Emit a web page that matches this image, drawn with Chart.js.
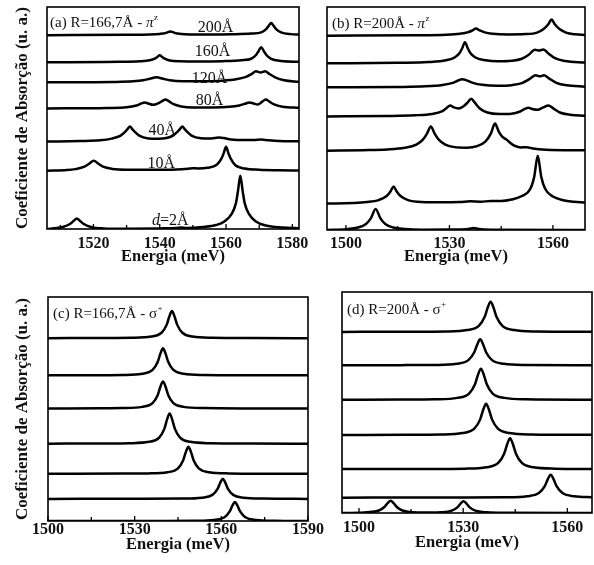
<!DOCTYPE html>
<html>
<head>
<meta charset="utf-8">
<script src="https://cdn.jsdelivr.net/npm/chart.js@4.4.1/dist/chart.umd.min.js"></script>
<style>
  body { margin: 0; background: #fff; }
  #fig { position: relative; width: 594px; height: 565px; overflow: hidden; }
  canvas { position: absolute; }
</style>
</head>
<body>
<div id="fig">
  <canvas id="pa" width="320" height="270" style="left:0;top:0"></canvas>
  <canvas id="pb" width="294" height="270" style="left:300px;top:0"></canvas>
  <canvas id="pc" width="330" height="285" style="left:0;top:280px"></canvas>
  <canvas id="pd" width="279" height="285" style="left:315px;top:280px"></canvas>
</div>
<script>
// ---- panel (a) R=166,7Å, pi^z ----
const rangeA = [1506, 1582];
const ticksA = [1520, 1540, 1560, 1580];
const minorA = [1510, 1530, 1550, 1570];
const offsetsA = [193, 166, 146, 120, 87, 58, 0];
const curvesA = [
  [[1506,0],[1530,0.3],[1537,0.6],[1540,1.2],[1541.7,2],[1542.5,3],[1543.2,3.5],[1544,3],[1544.7,2],[1546.4,1.2],[1549,0.7],[1555,0.6],[1562,0.9],[1567.6,1.6],[1570.6,2.8],[1572.1,6],[1572.8,9],[1573.6,12],[1574.4,9],[1575.1,6],[1576.6,2.8],[1579.6,1],[1582,0.6]],
  [[1506,0],[1528,0.4],[1534,1],[1537,2],[1538.5,3.6],[1539.3,5.3],[1540,7],[1540.7,5.3],[1541.5,3.6],[1543,1.8],[1546,0.9],[1552,0.7],[1559,1.1],[1564.6,2],[1567.6,3.5],[1569.1,7.5],[1569.8,11],[1570.6,15],[1571.4,11],[1572.1,7.5],[1573.6,3.3],[1576.6,1.2],[1582,0.5]],
  [[1506,0],[1526,0.4],[1532,1],[1535,2],[1537,3.6],[1539,5],[1541,3.6],[1543,2],[1547,1],[1553,1],[1559,1.6],[1563,3],[1566,5.5],[1567.8,8.5],[1569,11],[1570.4,9.8],[1571.8,11],[1573,8.5],[1574.8,5],[1577.5,2],[1582,0.6]],
  [[1506,0],[1524,0.5],[1530,1.2],[1533,3],[1534.5,5],[1535.4,6],[1536.5,5],[1538,3.6],[1539.5,5],[1540.8,7.5],[1541.7,9],[1542.6,7.5],[1544,4.5],[1546.5,2],[1550,1],[1556,1],[1561,1.6],[1564,3],[1566,5],[1567,6],[1568.3,5],[1569.5,4],[1571,7],[1572,9],[1573,7],[1574.5,4],[1577,1.8],[1582,0.6]],
  [[1506,0],[1516,0.6],[1522,1.3],[1525.5,3],[1528.2,6],[1529.6,10],[1530.3,12.5],[1531,15],[1531.7,12.5],[1532.4,10],[1533.8,6],[1536.6,3.2],[1539.5,2.8],[1542,3.5],[1544,6],[1545.4,10],[1546.1,12.5],[1546.8,15],[1547.5,12.5],[1548.2,10],[1549.6,6],[1552.4,3.3],[1555,3],[1556.7,3.6],[1558,4],[1559.3,3.5],[1561.5,2.2],[1565,1.5],[1568.5,1.6],[1570.6,2],[1572.7,1.4],[1576,0.7],[1582,0.3]],
  [[1506,0],[1512,0.7],[1514.5,1.6],[1517.3,4],[1518.7,7],[1520.1,10],[1521.5,7],[1522.9,4],[1525.7,1.8],[1530,1],[1538,1],[1545,1.3],[1548.5,2],[1550,2.5],[1551.5,2.3],[1554.4,3],[1557.2,6],[1558.6,12],[1559.3,17.5],[1560,24],[1560.7,17.5],[1561.4,12],[1562.8,5.5],[1565.6,2.2],[1570,1],[1576,0.5],[1582,0.3]],
  [[1506,0],[1509,1],[1511,2.2],[1512.9,5],[1514.2,8.5],[1515,10.5],[1515.8,8.5],[1517.1,5],[1519.5,1.8],[1523,0.6],[1530,0.3],[1540,0.6],[1545,1],[1546.5,1.4],[1548,1],[1553,2],[1557,4],[1559.5,7.5],[1561.7,15],[1563,26],[1563.6,38],[1564.3,53],[1565,38],[1565.6,26],[1566.9,15],[1569,7.5],[1572,3.5],[1577,1.5],[1582,0.8]]
];
const labelsA = ['200Å', '160Å', '120Å', '80Å', '40Å', '10Å', 'd=2Å'];
const labelXA = [1556.8, 1555.9, 1555, 1555, 1540.8, 1540.5, 1543.2];
const labelYA = [200, 176, 150, 128, 98, 65, 8];

// ---- panel (b) R=200Å, pi^z ----
const rangeB = [1494.5, 1569.3];
const ticksB = [1500, 1530, 1560];
const minorB = [1515, 1545];
const offsetsB = [193.5, 166, 142, 113, 79, 26.3, 0];
const curvesB = [
  [[1494.5,0],[1520,0.3],[1529,0.8],[1533,1.8],[1535.5,3.5],[1536.7,5.3],[1537.7,7],[1538.7,5.3],[1540,3.5],[1542.5,1.9],[1547,1.2],[1552,1.5],[1555.4,3],[1557.3,6.5],[1558.6,11],[1559.6,16],[1560.6,11],[1561.9,6.5],[1563.8,3],[1566.5,1.3],[1569.3,0.7]],
  [[1494.5,0],[1515,0.5],[1524,1.2],[1529,3],[1531.6,6],[1533,10.5],[1533.7,15],[1534.5,21],[1535.3,15],[1536,10.5],[1537.4,6],[1540.5,3],[1544,2],[1548,2.5],[1551,4.5],[1553,8.5],[1554.8,13.5],[1556,12.6],[1557.3,13.7],[1558.6,10],[1560.6,5],[1563.5,2.2],[1569.3,0.8]],
  [[1494.5,0],[1515,0.4],[1523,1],[1528,2.4],[1531,4.5],[1532.5,6.8],[1533.7,8],[1535,7],[1536.8,4.5],[1539.5,2.5],[1544,1.6],[1548,2.2],[1551,4.2],[1553.3,8.5],[1555,12],[1556.2,11],[1557.4,12],[1558.8,9],[1561,4.5],[1564,2],[1569.3,0.7]],
  [[1494.5,0],[1512,0.5],[1520,1.2],[1525,2.5],[1527.8,5],[1529.2,8.5],[1530.2,11],[1531.3,9],[1532.6,8],[1534,10],[1535.3,14],[1536.3,17.7],[1537.4,13.5],[1538.8,8],[1541,4],[1544.5,2.5],[1548,2.8],[1550.5,5],[1552,7.8],[1552.9,8.7],[1554,7.5],[1555.5,6.7],[1557.2,9],[1558.7,11],[1560,8.3],[1562,4],[1565,1.8],[1569.3,0.8]],
  [[1494.5,0],[1505,0.5],[1512,1.2],[1517,2.8],[1520.4,6],[1522.3,11],[1523.5,17],[1524.6,24],[1525.7,17],[1526.9,11],[1528.8,6],[1531.5,3.5],[1535,3],[1538,4.5],[1540.4,9],[1542,17],[1543.2,27],[1544.3,19],[1545.3,14],[1546.5,11],[1548.5,5.5],[1550.6,3.2],[1552.4,3.5],[1554.2,2.2],[1558,1],[1569.3,0.3]],
  [[1494.5,0],[1502,0.6],[1506,1.5],[1509.5,3.5],[1511.8,7.5],[1512.9,12],[1513.8,17],[1514.7,12],[1515.8,7.5],[1518,3.5],[1522,1.6],[1528,1.3],[1533,1.6],[1536,2.2],[1539,1.9],[1542,2.5],[1545,2.5],[1548,4],[1551,7.5],[1553.5,15],[1554.6,27],[1555.6,47.7],[1556.6,27],[1557.7,15],[1560,7],[1563,3.4],[1566,1.8],[1569.3,1]],
  [[1494.5,0],[1500,0.8],[1503.5,2.5],[1505.8,6],[1507.2,11.5],[1508.6,21],[1510,11.5],[1511.4,6],[1513.7,2.5],[1517,1],[1522,0.3],[1530,0.4],[1535.5,1],[1537,2],[1538.5,1],[1542,0.3],[1569.3,0]]
];

// ---- panel (c) R=166,7Å, sigma^+ ----
const rangeC = [1500, 1590];
const ticksC = [1500, 1530, 1560, 1590];
const minorC = [1515, 1545, 1575];
const offsetsC = [182, 145, 112, 77, 47, 22, 0];
const curvesC = [
  [[1500,0],[1520,0.2],[1528.9,0.4],[1535.7,1.6],[1539.3,5.4],[1541.1,13.5],[1542,21.6],[1542.9,27],[1543.8,21.6],[1544.7,13.5],[1546.5,5.4],[1550.1,1.6],[1556.9,0.4],[1570,0.1],[1590,0]],
  [[1500,0],[1518,0.2],[1525.8,0.4],[1532.6,1.6],[1536.2,5.4],[1538,13.5],[1538.9,21.6],[1539.8,27],[1540.7,21.6],[1541.6,13.5],[1543.4,5.4],[1547,1.6],[1553.8,0.4],[1570,0.1],[1590,0]],
  [[1500,0],[1518,0.2],[1525.8,0.4],[1532.6,1.6],[1536.2,5.4],[1538,13.5],[1538.9,21.6],[1539.8,27],[1540.7,21.6],[1541.6,13.5],[1543.4,5.4],[1547,1.6],[1553.8,0.4],[1570,0.1],[1590,0]],
  [[1500,0],[1520,0.2],[1528.1,0.45],[1534.9,1.8],[1538.5,6],[1540.3,15],[1541.2,24],[1542.1,30],[1543,24],[1543.9,15],[1545.7,6],[1549.3,1.8],[1556.1,0.45],[1570,0.1],[1590,0]],
  [[1500,0],[1526,0.2],[1534.6,0.4],[1541.4,1.6],[1545,5.4],[1546.8,13.5],[1547.7,21.6],[1548.6,27],[1549.5,21.6],[1550.4,13.5],[1552.2,5.4],[1555.8,1.6],[1562.6,0.4],[1576,0.1],[1590,0]],
  [[1500,0],[1532,0.15],[1546.5,0.3],[1553.3,1.2],[1556.9,4],[1558.7,10],[1559.6,16],[1560.5,20],[1561.4,16],[1562.3,10],[1564.1,4],[1567.7,1.2],[1574.5,0.3],[1590,0]],
  [[1500,0],[1540,0.1],[1550.7,0.3],[1557.5,1.1],[1561.1,3.8],[1562.9,9.5],[1563.8,15.2],[1564.7,19],[1565.6,15.2],[1566.5,9.5],[1568.3,3.8],[1571.9,1.1],[1578.7,0.3],[1590,0]]
];

// ---- panel (d) R=200Å, sigma^+ ----
const rangeD = [1495.1, 1567.1];
const ticksD = [1500, 1530, 1560];
const minorD = [1515, 1545];
const offsetsD = [180.3, 147, 112.7, 77.7, 43.7, 15.3, 0];
const curvesD = [
  [[1495.1,0],[1515,0.2],[1524.9,0.45],[1531.1,1.8],[1534.5,6],[1536.2,15],[1537.05,24],[1537.9,30],[1538.75,24],[1539.6,15],[1541.3,6],[1544.7,1.8],[1550.9,0.45],[1567.1,0.1]],
  [[1495.1,0],[1512,0.2],[1521.9,0.4],[1528.1,1.6],[1531.5,5.2],[1533.2,13],[1534.05,20.8],[1534.9,26],[1535.75,20.8],[1536.6,13],[1538.3,5.2],[1541.7,1.6],[1547.9,0.4],[1567.1,0.1]],
  [[1495.1,0],[1512,0.2],[1522.1,0.5],[1528.3,1.9],[1531.7,6.2],[1533.4,15.5],[1534.25,24.8],[1535.1,31],[1535.95,24.8],[1536.8,15.5],[1538.5,6.2],[1541.9,1.9],[1548.1,0.5],[1567.1,0.1]],
  [[1495.1,0],[1513,0.2],[1523.6,0.5],[1529.8,1.9],[1533.2,6.2],[1534.9,15.5],[1535.75,24.8],[1536.6,31],[1537.45,24.8],[1538.3,15.5],[1540,6.2],[1543.4,1.9],[1549.6,0.5],[1567.1,0.1]],
  [[1495.1,0],[1520,0.2],[1530.5,0.45],[1536.7,1.8],[1540.1,6.1],[1541.8,15.3],[1542.65,24.5],[1543.5,30.6],[1544.35,24.5],[1545.2,15.3],[1546.9,6.1],[1550.3,1.8],[1556.5,0.45],[1567.1,0.15]],
  [[1495.1,0],[1530,0.15],[1542.2,0.35],[1548.4,1.4],[1551.8,4.5],[1553.5,11.4],[1554.35,18.2],[1555.2,22.7],[1556.05,18.2],[1556.9,11.4],[1558.6,4.5],[1562,1.4],[1567.1,0.5]],
  [[1495.1,0],[1500,0.3],[1502.3,0.7],[1505.7,2.5],[1507.4,6.2],[1508.25,9.8],[1509.1,12.3],[1509.95,9.8],[1510.8,6.2],[1512.5,2.5],[1515.9,0.7],[1520,0.4],[1523.3,0.7],[1526.7,2.3],[1528.4,5.9],[1529.25,9.4],[1530.1,11.7],[1530.95,9.4],[1531.8,5.9],[1533.5,2.3],[1536.9,0.7],[1542,0.2],[1567.1,0]]
];

const yTitle = 'Coeficiente de Absorção (u. a.)';
const xTitle = 'Energia (meV)';
const serif = '"Liberation Serif", "Times New Roman", serif';
const ink = '#111';

// frame, inward ticks, panel tag and curve labels
const panelDecor = {
  id: 'panelDecor',
  afterDatasetsDraw(chart, args, o) {
    const {ctx, chartArea: a} = chart;
    const sx = chart.scales.x, sy = chart.scales.y;
    ctx.save();
    ctx.strokeStyle = '#000';
    ctx.lineWidth = 1.6;
    ctx.strokeRect(a.left, a.top, a.right - a.left, a.bottom - a.top);
    ctx.lineWidth = 1.3;
    ctx.beginPath();
    o.major.forEach(v => {
      let px = sx.getPixelForValue(v);
      ctx.moveTo(px, a.bottom); ctx.lineTo(px, a.bottom - 5);
    });
    o.minor.forEach(v => {
      let px = sx.getPixelForValue(v);
      ctx.moveTo(px, a.bottom); ctx.lineTo(px, a.bottom - 4);
    });
    ctx.stroke();

    // panel tag like "(a) R=166,7Å - π^z"
    ctx.fillStyle = ink;
    ctx.textBaseline = 'alphabetic';
    ctx.textAlign = 'left';
    let tx = a.left + o.tagDx, ty = a.top + o.tagDy;
    ctx.font = '15px ' + serif;
    ctx.fillText(o.tag[0], tx, ty);
    tx += ctx.measureText(o.tag[0]).width;
    ctx.font = (o.tag[3] ? 'italic ' : '') + '15px ' + serif;
    ctx.fillText(o.tag[1], tx, ty);
    tx += ctx.measureText(o.tag[1]).width;
    ctx.font = '9px ' + serif;
    ctx.fillText(o.tag[2], tx + 0.5, ty - 7);

    // curve labels (panel a only)
    if (o.labels) {
      ctx.font = '16px ' + serif;
      ctx.textBaseline = 'middle';
      o.labels.forEach((t, i) => {
        let cx = sx.getPixelForValue(o.labelX[i]);
        let cy = sy.getPixelForValue(o.labelY[i]);
        if (t.startsWith('d=')) {
          ctx.font = 'italic 16px ' + serif;
          let w1 = ctx.measureText('d').width;
          ctx.font = '16px ' + serif;
          let w2 = ctx.measureText(t.slice(1)).width;
          let x0 = cx - (w1 + w2) / 2;
          ctx.textAlign = 'left';
          ctx.font = 'italic 16px ' + serif;
          ctx.fillText('d', x0, cy);
          ctx.font = '16px ' + serif;
          ctx.fillText(t.slice(1), x0 + w1, cy);
        } else {
          ctx.textAlign = 'center';
          ctx.fillText(t, cx, cy);
        }
      });
    }
    ctx.restore();
  }
};

function makePanel(id, range, ticks, minor, offsets, curves, yMax, lay, decor) {
  let datasets = curves.map((c, i) => ({
    data: c.map(p => ({x: p[0], y: offsets[i] + p[1]})),
    borderColor: '#000',
    borderWidth: 2.5,
    pointRadius: 0,
    fill: false,
    cubicInterpolationMode: 'monotone'
  }));
  decor.major = ticks;
  decor.minor = minor;
  return new Chart(document.getElementById(id), {
    type: 'line',
    data: {datasets: datasets},
    options: {
      responsive: false,
      animation: false,
      events: [],
      layout: {padding: lay.pad},
      plugins: {legend: {display: false}, tooltip: {enabled: false}, panelDecor: decor},
      scales: {
        x: {
          type: 'linear',
          min: range[0],
          max: range[1],
          afterBuildTicks: s => { s.ticks = ticks.map(v => ({value: v})); },
          grid: {display: false, drawTicks: false},
          border: {display: false},
          ticks: {
            color: ink,
            padding: lay.tickPad,
            maxRotation: 0,
            autoSkip: false,
            font: {family: serif, size: 16, weight: 'bold', lineHeight: 1},
            callback: v => String(v)
          },
          title: {
            display: true,
            text: xTitle,
            color: ink,
            padding: {top: lay.titlePad, bottom: 0},
            font: {family: serif, size: 16.5, weight: 'bold', lineHeight: 0.6}
          }
        },
        y: {
          type: 'linear',
          min: 0,
          max: yMax,
          display: lay.yTitle,
          grid: {display: false, drawTicks: false},
          border: {display: false},
          ticks: {display: false},
          title: {
            display: lay.yTitle,
            text: yTitle,
            color: ink,
            padding: lay.yPad,
            font: {family: serif, size: 17, weight: 'bold', lineHeight: 1.2}
          }
        }
      }
    },
    plugins: [panelDecor]
  });
}

makePanel('pa', rangeA, ticksA, minorA, offsetsA, curvesA, 221,
  {pad: {left: 0, right: 21, top: 7, bottom: 8.1}, tickPad: 7, titlePad: -7, yTitle: true, yPad: {top: 12, bottom: 14.6}},
  {tag: ['(a) R=166,7Å - ', 'π', 'z', true], tagDx: 3, tagDy: 19.5, labels: labelsA, labelX: labelXA, labelY: labelYA});

makePanel('pb', rangeB, ticksB, minorB, offsetsB, curvesB, 222,
  {pad: {left: 27, right: 9, top: 7, bottom: 8.1}, tickPad: 6, titlePad: -6, yTitle: false, yPad: 0},
  {tag: ['(b) R=200Å - ', 'π', 'z', true], tagDx: 5, tagDy: 21});

makePanel('pc', rangeC, ticksC, minorC, offsetsC, curvesC, 223,
  {pad: {left: 0, right: 22, top: 17, bottom: 15.1}, tickPad: 1, titlePad: 1, yTitle: true, yPad: {top: 12, bottom: 15.6}},
  {tag: ['(c) R=166,7Å - ', 'σ', '+', false], tagDx: 5, tagDy: 21});

makePanel('pd', rangeD, ticksD, minorD, offsetsD, curvesD, 220,
  {pad: {left: 27, right: 2, top: 12, bottom: 17.1}, tickPad: 7, titlePad: -5, yTitle: false, yPad: 0},
  {tag: ['(d) R=200Å - ', 'σ', '+', false], tagDx: 5, tagDy: 22});
</script>
</body>
</html>
